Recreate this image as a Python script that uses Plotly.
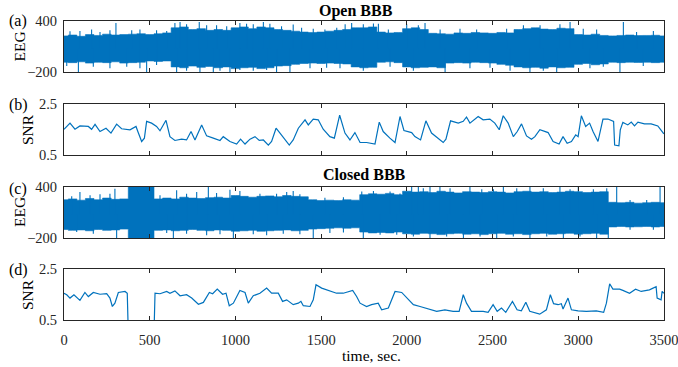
import plotly.graph_objects as go

BLUE = "#0072BD"
AX = "#262626"
FONT = "Liberation Serif"

# ---------------- data ----------------
eeg_t = list(range(0, 3501, 50))

eeg_a_upper = [225, 235, 220, 240, 230, 245, 235, 240, 245, 250,
               240, 250, 260, 320, 330, 300, 310, 290, 300, 290,
               320, 330, 310, 330, 320, 300, 290, 280, 270, 265,
               270, 280, 290, 300, 320, 320, 330, 270, 260, 265,
               310, 320, 300, 255, 250, 245, 260, 255, 265, 260,
               255, 265, 260, 300, 310, 320, 305, 300, 315, 310,
               240, 235, 245, 230, 225, 230, 235, 228, 230, 232, 225]
eeg_a_lower = [-85, -90, -80, -95, -85, -90, -80, -95, -90, -85,
               -70, -75, -70, -140, -150, -130, -145, -135, -150, -140,
               -160, -150, -145, -160, -150, -130, -125, -110, -100, -95,
               -100, -95, -100, -105, -140, -150, -145, -85, -80, -90,
               -140, -150, -145, -140, -150, -95, -90, -95, -85, -90,
               -95, -110, -120, -140, -150, -145, -155, -140, -150, -145,
               -110, -100, -115, -105, -85, -90, -85, -88, -85, -90, -85]
spike_a_t = [303, 677, 789, 1026, 1163, 1337, 1678, 1805, 2106, 2952, 3263,
             35, 93, 161, 210, 268, 395, 443, 540, 599, 647, 715, 832, 890, 949,
             1065, 1104, 1201, 1269, 1386, 1454, 1522, 1591, 1640, 1746, 1834,
             1892, 1999, 2067, 2194, 2310, 2407, 2582, 2680, 2777, 2893, 3029,
             3107, 3340, 3438,
             84, 482, 657, 793, 871, 968, 1240, 1318, 2223, 2718, 2874, 3243,
             16, 171, 268, 366, 443, 540, 715, 910, 1026, 1104, 1182, 1435, 1532,
             1610, 1746, 1902, 2038, 2368, 2485, 2602, 2796, 3068, 3146, 3379]
spike_a_v = [377, 388, 388, 377, 388, 360, 377, 370, 377, 388, 388,
             279, 283, 299, 271, 291, 291, 299, 291, 283, 377, 361, 349, 349, 338,
             369, 361, 369, 338, 322, 310, 299, 322, 361, 361, 369,
             299, 361, 349, 299, 310, 299, 310, 349, 349, 361, 310,
             299, 271, 283,
             -200, -200, -200, -200, -200, -200, -200, -200, -200, -200, -200, -200,
             -130, -138, -157, -138, -157, -118, -185, -185, -177, -185, -177, -157, -149,
             -157, -185, -138, -185, -157, -149, -185, -185, -157, -138, -130]

eeg_c_upper = [250, 260, 245, 265, 250, 270, 255, 260, 450, 450,
               450, 260, 270, 260, 280, 270, 265, 275, 280, 270,
               300, 290, 280, 290, 295, 285, 300, 290, 285, 250,
               240, 245, 240, 250, 245, 310, 320, 315, 325, 310,
               350, 340, 345, 335, 350, 340, 330, 345, 340, 335,
               345, 340, 330, 345, 350, 340, 345, 335, 340, 350,
               345, 335, 340, 345, 220, 215, 220, 210, 215, 220, 215]
eeg_c_lower = [-100, -110, -105, -115, -100, -110, -105, -95, -300, -300,
               -300, -110, -105, -115, -110, -100, -110, -115, -105, -110,
               -120, -115, -110, -120, -115, -110, -105, -115, -110, -95,
               -90, -85, -80, -85, -80, -130, -140, -135, -140, -130,
               -150, -155, -145, -150, -160, -150, -145, -155, -150, -160,
               -150, -145, -155, -150, -160, -150, -145, -155, -150, -145,
               -155, -150, -145, -155, -70, -65, -70, -68, -65, -70, -65]
spike_c_t = [93, 297, 657, 842, 968, 1299, 2028, 2067, 2135, 2193, 2368, 2563,
             2718, 2893, 3000, 3224, 3477,
             45, 152, 210, 268, 560, 715, 774, 890, 1026, 1143, 1240, 1337, 1376,
             1522, 1630, 1737, 1805, 1902, 1960, 2096, 2252, 2437, 2505, 2641,
             2796, 2952, 3088, 3166, 3302, 3399,
             307, 638, 988, 1454, 1746, 2135, 2330, 2524, 2718, 2913, 3107, 3175,
             74, 171, 599, 715, 832, 910, 1104, 1182, 1279, 1376, 1551, 1630, 1844,
             1941, 2038, 2232, 2427, 2621, 2816, 3010, 3302, 3438]
spike_c_v = [341, 380, 361, 400, 369, 341, 400, 400, 400, 400, 400, 400,
             400, 400, 400, 400, 400,
             290, 302, 314, 322, 302, 322, 341, 329, 353, 322, 322, 353, 314,
             275, 278, 347, 354, 347, 324, 385, 385, 373, 373, 385,
             385, 373, 373, 385, 247, 247,
             -200, -200, -200, -200, -200, -200, -200, -200, -200, -200, -200, -200,
             -129, -149, -141, -149, -168, -156, -156, -168, -149, -156, -141, -135, -162,
             -162, -181, -181, -181, -181, -181, -181, -104, -104]

# SNR traces
snr_b_t = [0, 35, 64, 93, 142, 161, 181, 210, 245, 274, 307, 336, 385, 420, 434, 453,
           469, 482, 511, 540, 560, 595, 618, 647, 686, 715, 741, 764, 803, 832, 871,
           910, 929, 968, 1007, 1030, 1056, 1085, 1114, 1139, 1163, 1192, 1211, 1237,
           1260, 1289, 1314, 1337, 1367, 1406, 1425, 1454, 1483, 1512, 1551, 1577,
           1608, 1639, 1668, 1697, 1727, 1765, 1804, 1814, 1839, 1862, 1901, 1931,
           1960, 1983, 2028, 2047, 2080, 2111, 2144, 2183, 2212, 2228, 2255, 2300,
           2329, 2348, 2368, 2416, 2445, 2484, 2513, 2539, 2562, 2591, 2621, 2644,
           2669, 2698, 2727, 2747, 2776, 2824, 2853, 2888, 2911, 2935, 2960, 2985,
           2999, 3018, 3043, 3066, 3086, 3115, 3144, 3173, 3206, 3212, 3237, 3245,
           3260, 3289, 3309, 3328, 3348, 3386, 3425, 3464, 3499]
snr_b_v = [1.51, 1.75, 1.51, 1.64, 1.62, 1.51, 1.70, 1.42, 1.55, 1.36, 1.71, 1.53, 1.49,
           1.62, 1.36, 1.03, 1.16, 1.82, 1.75, 1.62, 1.45, 1.86, 1.22, 1.07, 1.12, 1.09,
           1.42, 1.09, 1.68, 1.25, 1.16, 1.07, 1.22, 1.03, 0.93, 1.12, 0.93, 1.12, 1.22,
           1.07, 1.09, 0.89, 1.03, 1.55, 1.36, 1.09, 0.89, 1.09, 1.55, 1.88, 1.68, 1.91,
           1.88, 1.51, 1.22, 1.16, 2.06, 1.36, 1.09, 1.38, 0.99, 0.99, 0.96, 0.93, 1.79,
           1.42, 1.16, 0.99, 2.01, 1.46, 1.38, 1.22, 1.09, 1.84, 1.36, 1.16, 0.99, 1.12,
           1.84, 1.75, 1.82, 1.99, 1.75, 2.01, 1.88, 1.91, 1.75, 1.49, 2.04, 1.75, 1.22,
           1.42, 1.72, 1.25, 1.12, 1.22, 1.49, 1.38, 1.03, 0.93, 1.22, 0.96, 1.03, 1.29,
           1.22, 2.04, 1.62, 1.75, 1.42, 1.03, 1.91, 1.91, 1.82, 0.89, 0.86, 1.49, 1.78,
           1.68, 1.79, 1.64, 1.79, 1.72, 1.72, 1.64, 1.33]

snr_d_t = [0, 16, 35, 58, 93, 122, 142, 171, 210, 249, 268, 282, 297, 317, 356, 369,
           375, 525, 531, 560, 599, 618, 647, 677, 715, 745, 784, 813, 848, 867, 894,
           925, 945, 964, 988, 1026, 1056, 1075, 1104, 1143, 1182, 1211, 1250, 1275,
           1299, 1337, 1367, 1382, 1396, 1435, 1454, 1470, 1503, 1542, 1590, 1629,
           1684, 1707, 1727, 1765, 1794, 1833, 1853, 1892, 1931, 1970, 1999, 2038,
           2077, 2135, 2174, 2222, 2270, 2305, 2329, 2348, 2377, 2445, 2474, 2503,
           2527, 2552, 2577, 2616, 2643, 2668, 2694, 2717, 2775, 2814, 2837, 2856,
           2882, 2901, 2911, 2940, 2960, 2999, 3047, 3105, 3148, 3164, 3183, 3202,
           3241, 3260, 3299, 3334, 3367, 3415, 3454, 3460, 3483, 3489, 3499]
snr_d_v = [1.55, 1.49, 1.36, 1.49, 1.27, 1.58, 1.42, 1.58, 1.51, 1.53, 1.36, 1.03, 1.16,
           1.58, 1.62, 1.55, 0.0, 0.0, 1.55, 1.53, 1.62, 1.55, 1.64, 1.45, 1.49, 1.36,
           1.12, 1.19, 1.58, 1.53, 1.71, 1.51, 1.55, 1.06, 1.16, 1.66, 1.58, 1.16, 1.45,
           1.55, 1.75, 1.55, 1.55, 1.23, 1.29, 1.10, 1.16, 1.23, 1.06, 1.03, 1.29, 1.88,
           1.75, 1.66, 1.55, 1.55, 1.66, 1.42, 1.16, 1.03, 1.10, 1.16, 0.90, 0.97, 1.62,
           1.58, 1.36, 1.10, 1.03, 0.90, 0.84, 0.90, 0.84, 0.84, 1.49, 1.16, 0.84, 0.84,
           0.80, 1.10, 0.84, 0.97, 0.80, 1.23, 0.90, 0.86, 1.20, 0.84, 0.73, 0.90, 1.49,
           1.14, 1.10, 1.14, 0.93, 1.36, 0.90, 0.86, 0.84, 0.86, 0.80, 1.16, 1.92, 1.71,
           1.71, 1.66, 1.55, 1.71, 1.62, 1.68, 1.81, 1.36, 1.29, 1.62, 1.55]

x_ticks = [0, 500, 1000, 1500, 2000, 2500, 3000, 3500]
eeg_ticks = [-200, 400]
snr_ticks = [0.5, 2.5]
snr_tick_text = ["0.5", "2.5"]

# ---------------- figure ----------------
W, H = 678, 367
fig = go.Figure()


def band(t, up, lo, xa, ya):
    fig.add_trace(go.Scatter(
        x=t + t[::-1], y=up + lo[::-1], fill="toself", fillcolor=BLUE,
        mode="lines", line=dict(color=BLUE, width=0.6, shape="hvh"),
        xaxis=xa, yaxis=ya, hoverinfo="skip", showlegend=False))


def spikes(st, sv, xa, ya, base=80):
    xs, ys = [], []
    for a, b in zip(st, sv):
        xs += [a, a, None]
        ys += [base, b, None]
    fig.add_trace(go.Scatter(x=xs, y=ys, mode="lines",
                             line=dict(color=BLUE, width=1.1),
                             xaxis=xa, yaxis=ya, hoverinfo="skip", showlegend=False))


band(eeg_t, eeg_a_upper, eeg_a_lower, "x", "y")
spikes(spike_a_t, spike_a_v, "x", "y")
fig.add_trace(go.Scatter(x=snr_b_t, y=snr_b_v, mode="lines",
                         line=dict(color=BLUE, width=1.2), xaxis="x2", yaxis="y2",
                         showlegend=False))
band(eeg_t, eeg_c_upper, eeg_c_lower, "x3", "y3")
spikes(spike_c_t, spike_c_v, "x3", "y3")
fig.add_trace(go.Scatter(x=snr_d_t, y=snr_d_v, mode="lines",
                         line=dict(color=BLUE, width=1.2), xaxis="x4", yaxis="y4",
                         showlegend=False))

xdom = [64 / W, 664 / W]
panels = [(21, 72), (104, 155), (187, 238), (269, 320)]


def ydom(top, bot):
    return [1 - bot / H, 1 - top / H]


axis_common = dict(showline=True, linecolor=AX, linewidth=1, mirror="ticks",
                   ticks="inside", ticklen=4, tickcolor=AX, tickwidth=1,
                   showgrid=False, zeroline=False, automargin=False,
                   ticklabeloverflow="allow",
                   tickfont=dict(family=FONT, size=14.5, color="#262626"))

layout = dict(width=W, height=H, margin=dict(l=0, r=0, t=0, b=0),
              paper_bgcolor="white", plot_bgcolor="white", showlegend=False,
              font=dict(family=FONT, color="#262626"))

for i, (top, bot) in enumerate(panels):
    n = "" if i == 0 else str(i + 1)
    layout["xaxis" + n] = dict(axis_common, domain=xdom, range=[0, 3500],
                               tickvals=x_ticks, showticklabels=(i == 3),
                               ticklabelstandoff=7, anchor="y" + n)
    if i in (0, 2):
        yax = dict(axis_common, domain=ydom(top, bot), range=[-200, 400],
                   tickvals=eeg_ticks)
    else:
        yax = dict(axis_common, domain=ydom(top, bot), range=[0.5, 2.5],
                   tickvals=snr_ticks, ticktext=snr_tick_text)
    layout["yaxis" + n] = dict(yax, anchor="x" + n, ticklabelstandoff=3)

fig.update_layout(**layout)


def ann(text, px, py, size=15.5, bold=False, angle=0):
    fig.add_annotation(text=("<b>%s</b>" % text) if bold else text,
                       x=px / W, y=1 - py / H, xref="paper", yref="paper",
                       xanchor="center", yanchor="middle", showarrow=False,
                       textangle=angle,
                       font=dict(family=FONT, size=size, color="black"))


ann("Open BBB", 356, 11, size=16, bold=True)
ann("Closed BBB", 364, 174.5, size=16, bold=True)
for lab, py in [("(a)", 21), ("(b)", 105), ("(c)", 189), ("(d)", 270)]:
    ann(lab, 18, py, size=16)
ann("EEG", 19, 46.5, angle=-90)
ann("EEG", 19, 212, angle=-90)
ann("SNR", 27.5, 129.5, angle=-90)
ann("SNR", 27.5, 294.5, angle=-90)
ann("time, sec.", 371, 355, size=15.5)

fig.write_html("out.html")
